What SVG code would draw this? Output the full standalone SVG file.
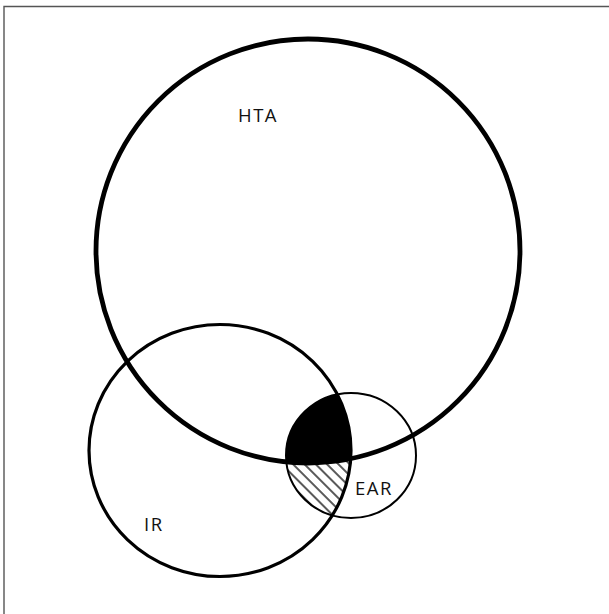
<svg xmlns="http://www.w3.org/2000/svg" width="609" height="614" viewBox="0 0 609 614">
  <style>
    .lbl { font-family: "Open Sans", "Liberation Sans", sans-serif; font-size: 18.5px; letter-spacing: 1.5px; fill: #111; }
    .ring { fill: none; stroke: #000; }
  </style>
  <defs>
    <clipPath id="cIR"><ellipse cx="220" cy="450.5" rx="131" ry="126"/></clipPath>
    <clipPath id="cEAR"><ellipse cx="351" cy="455.5" rx="65" ry="62.5"/></clipPath>
    <pattern id="hatch" patternUnits="userSpaceOnUse" width="20" height="8" patternTransform="rotate(45)">
      <line x1="0" y1="1" x2="20" y2="1" stroke="#000" stroke-width="1.3"/>
    </pattern>
  </defs>
  <rect width="609" height="614" fill="#fff"/>
  <path id="frame" d="M4,614 V6.5 H609" fill="none" stroke="#555" stroke-width="1.4"/>

  <g id="regions" clip-path="url(#cIR)">
    <g clip-path="url(#cEAR)">
      <rect id="hatched-IR-EAR" x="280" y="390" width="140" height="130" fill="url(#hatch)"/>
      <circle id="black-HTA-IR-EAR" cx="308" cy="251" r="212" fill="#000"/>
    </g>
  </g>

  <g id="IR">
    <ellipse class="ring" cx="220" cy="450.5" rx="131" ry="126" stroke-width="3.2"/>
    <text class="lbl" x="144" y="531">IR</text>
  </g>
  <g id="EAR">
    <ellipse class="ring" cx="351" cy="455.5" rx="65" ry="62.5" stroke-width="2"/>
    <text class="lbl" x="355" y="495">EAR</text>
  </g>
  <g id="HTA">
    <circle class="ring" cx="308" cy="251" r="212" stroke-width="4.8"/>
    <text class="lbl" x="238" y="122">HTA</text>
  </g>
  <g id="connectors"/>
</svg>
